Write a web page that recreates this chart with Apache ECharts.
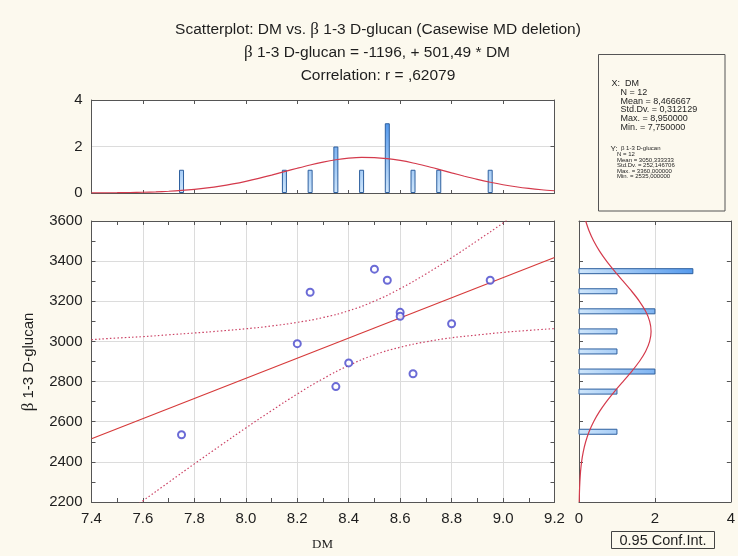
<!DOCTYPE html>
<html>
<head>
<meta charset="utf-8">
<script src="https://cdn.jsdelivr.net/npm/echarts@6/dist/echarts.min.js"></script>
<style>
html,body{margin:0;padding:0;background:#FCF9EE;}
#chart{width:738px;height:556px;}
</style>
</head>
<body>
<div id="chart"></div>
<script>
// ---- data ----
const dmValues      = [7.75, 8.20, 8.25, 8.35, 8.40, 8.50, 8.55, 8.60, 8.60, 8.65, 8.80, 8.95];
const glucanValues  = [2535, 2989, 3245, 2775, 2893, 3360, 3305, 3145, 3125, 2839, 3088, 3305];

const regLineX = [7.4, 9.2];
const regLineY = [2515, 3418];

const ciX     = [7.4, 7.5, 7.6, 7.7, 7.8, 7.9, 8.0, 8.1, 8.2, 8.3, 8.4, 8.5, 8.6, 8.7, 8.8, 8.9, 9.0, 9.1, 9.2];
const ciUpper = [3009, 3017, 3024, 3033, 3042, 3052, 3063, 3077, 3095, 3119, 3153, 3201, 3263, 3336, 3417, 3502, 3590, 3680, 3771];
const ciLower = [2021, 2114, 2206, 2298, 2390, 2480, 2569, 2655, 2738, 2814, 2880, 2933, 2971, 2998, 3018, 3032, 3045, 3055, 3064];

const histXBins   = [7.75, 8.15, 8.25, 8.35, 8.45, 8.55, 8.65, 8.75, 8.95];
const histXCounts = [1, 1, 1, 2, 1, 3, 1, 1, 1];

const normXGrid  = [7.40, 7.45, 7.50, 7.55, 7.60, 7.65, 7.70, 7.75, 7.80, 7.85, 7.90, 7.95, 8.00, 8.05, 8.10, 8.15, 8.20, 8.25, 8.30, 8.35,
                    8.40, 8.45, 8.50, 8.55, 8.60, 8.65, 8.70, 8.75, 8.80, 8.85, 8.90, 8.95, 9.00, 9.05, 9.10, 9.15, 9.20];
const normXCurve = [0.005, 0.008, 0.013, 0.021, 0.033, 0.050, 0.075, 0.110, 0.157, 0.218, 0.295, 0.390, 0.502, 0.629, 0.769, 0.917, 1.065, 1.206, 1.330, 1.431,
                    1.499, 1.532, 1.525, 1.480, 1.400, 1.291, 1.160, 1.016, 0.867, 0.722, 0.585, 0.463, 0.356, 0.268, 0.196, 0.140, 0.097];

const histYBins   = [2550, 2750, 2850, 2950, 3050, 3150, 3250, 3350];
const histYCounts = [1, 1, 2, 1, 1, 2, 1, 3];

const normYGrid  = [2200, 2250, 2300, 2350, 2400, 2450, 2500, 2550, 2600, 2650, 2700, 2750, 2800, 2850, 2900, 2950, 3000, 3050,
                    3100, 3150, 3200, 3250, 3300, 3350, 3400, 3450, 3500, 3550, 3600];
const normYCurve = [0.006, 0.012, 0.023, 0.040, 0.068, 0.112, 0.176, 0.265, 0.385, 0.538, 0.723, 0.934, 1.160, 1.385, 1.590, 1.754, 1.861, 1.899,
                    1.862, 1.756, 1.592, 1.388, 1.163, 0.937, 0.726, 0.541, 0.387, 0.267, 0.176];

const xTickLabels = ['7.4','7.6','7.8','8.0','8.2','8.4','8.6','8.8','9.0','9.2'];
const statsX = ['X:  DM', 'N = 12', 'Mean = 8,466667', 'Std.Dv. = 0,312129', 'Max. = 8,950000', 'Min. = 7,750000'];
const statsY = ['N = 12', 'Mean = 3050,333333', 'Std.Dv. = 252,146706', 'Max. = 3360,000000', 'Min. = 2535,000000'];

// ---- chart ----
const chart = echarts.init(document.getElementById('chart'));
const SANS = 'Liberation Sans, Arial, sans-serif';
const SERIF = 'Liberation Serif, Times New Roman, serif';
const AX = '#555555';
const GRIDC = '#dcdcdc';
const TXT = '#1e1e1e';

function tickAxis(extra) {
  return Object.assign({
    type: 'value',
    axisLine: {show: true, onZero: false, lineStyle: {color: AX, width: 1}},
    axisTick: {show: true, inside: true, length: 4, lineStyle: {color: AX}},
    axisLabel: {show: false},
    splitLine: {show: false}
  }, extra);
}

const barGradTop = new echarts.graphic.LinearGradient(0, 100, 0, 193, [
  {offset: 0, color: '#2a7fe8'},
  {offset: 1, color: '#cfe6fb'}
], true);
const barGradRight = new echarts.graphic.LinearGradient(579, 0, 733, 0, [
  {offset: 0, color: '#cfe6fb'},
  {offset: 1, color: '#2a7fe8'}
], true);

const labelStyle = {show: true, color: TXT, fontFamily: SANS, fontSize: 15, margin: 9, formatter: v => String(v)};

const option = {
  backgroundColor: '#FCF9EE',
  animation: false,
  grid: [
    {left: 91.5, top: 221, width: 463, height: 281, show: true, backgroundColor: '#ffffff', borderWidth: 0},
    {left: 91.5, top: 100, width: 463, height: 93, show: true, backgroundColor: '#ffffff', borderWidth: 0},
    {left: 579, top: 221, width: 154, height: 281, show: true, backgroundColor: '#ffffff', borderWidth: 0}
  ],
  xAxis: [
    tickAxis({gridIndex: 0, position: 'bottom', min: 7.4, max: 9.2, interval: 0.2,
      axisLabel: Object.assign({}, labelStyle, {formatter: v => { const s = v.toFixed(1); return xTickLabels.indexOf(s) >= 0 ? s : ''; }}),
      minorTick: {show: true, splitNumber: 2, length: 4, lineStyle: {color: AX}},
      splitLine: {show: true, lineStyle: {color: GRIDC, width: 1}}}),
    tickAxis({gridIndex: 0, position: 'top', min: 7.4, max: 9.2, interval: 0.2,
      minorTick: {show: true, splitNumber: 2, length: 4, lineStyle: {color: AX}}}),
    tickAxis({gridIndex: 1, position: 'bottom', min: 7.4, max: 9.2, interval: 0.2, axisTick: {show: true, inside: true, length: 3, lineStyle: {color: AX}}}),
    tickAxis({gridIndex: 1, position: 'top', min: 7.4, max: 9.2, interval: 0.2}),
    tickAxis({gridIndex: 2, position: 'bottom', min: 0, max: 4, interval: 2,
      axisLabel: Object.assign({}, labelStyle),
      splitLine: {show: true, lineStyle: {color: GRIDC, width: 1}}}),
    tickAxis({gridIndex: 2, position: 'top', min: 0, max: 4, interval: 2})
  ],
  yAxis: [
    tickAxis({gridIndex: 0, position: 'left', min: 2200, max: 3600, interval: 200,
      axisLabel: Object.assign({}, labelStyle),
      minorTick: {show: true, splitNumber: 2, length: 4, lineStyle: {color: AX}},
      splitLine: {show: true, lineStyle: {color: GRIDC, width: 1}}}),
    tickAxis({gridIndex: 0, position: 'right', min: 2200, max: 3600, interval: 200,
      minorTick: {show: true, splitNumber: 2, length: 4, lineStyle: {color: AX}}}),
    tickAxis({gridIndex: 1, position: 'left', min: 0, max: 4, interval: 2,
      axisTick: {show: false},
      axisLabel: Object.assign({}, labelStyle),
      splitLine: {show: true, lineStyle: {color: GRIDC, width: 1}}}),
    tickAxis({gridIndex: 1, position: 'right', min: 0, max: 4, interval: 2}),
    tickAxis({gridIndex: 2, position: 'left', min: 2200, max: 3600, interval: 200}),
    tickAxis({gridIndex: 2, position: 'right', min: 2200, max: 3600, interval: 200})
  ],
  series: [
    {
      type: 'line', xAxisIndex: 0, yAxisIndex: 0, name: 'ciUpper',
      data: ciX.map((x, i) => [x, ciUpper[i]]), smooth: true, symbol: 'none',
      lineStyle: {color: '#cc4466', width: 1.2, type: [1.5, 2.2]}, z: 3
    },
    {
      type: 'line', xAxisIndex: 0, yAxisIndex: 0, name: 'ciLower',
      data: ciX.map((x, i) => [x, ciLower[i]]), smooth: true, symbol: 'none',
      lineStyle: {color: '#cc4466', width: 1.2, type: [1.5, 2.2]}, z: 3
    },
    {
      type: 'line', xAxisIndex: 0, yAxisIndex: 0, name: 'fit',
      data: regLineX.map((x, i) => [x, regLineY[i]]), symbol: 'none',
      lineStyle: {color: '#d63a3a', width: 1.2}, z: 4
    },
    {
      type: 'scatter', xAxisIndex: 0, yAxisIndex: 0, name: 'cases',
      data: dmValues.map((x, i) => [x, glucanValues[i]]),
      symbol: 'emptyCircle', symbolSize: 7,
      itemStyle: {color: '#4646cc', borderColor: '#4646cc', borderWidth: 0.9}, z: 5
    },
    {
      type: 'bar', xAxisIndex: 2, yAxisIndex: 2, name: 'histX',
      data: histXBins.map((x, i) => [x, histXCounts[i]]), barWidth: 5,
      itemStyle: {color: barGradTop, borderColor: '#2d5f9e', borderWidth: 1}, z: 2
    },
    {
      type: 'line', xAxisIndex: 2, yAxisIndex: 2, name: 'normX',
      data: normXGrid.map((x, i) => [x, normXCurve[i]]), smooth: 0.3, symbol: 'none',
      lineStyle: {color: '#d43a4c', width: 1.2}, z: 4
    },
    {
      type: 'custom', xAxisIndex: 4, yAxisIndex: 4, name: 'histY',
      data: histYBins.map((b, i) => [histYCounts[i], b]),
      encode: {x: 0, y: 1},
      renderItem: function (params, api) {
        const c = api.value(0), b = api.value(1);
        const p0 = api.coord([0, b]);
        const p1 = api.coord([c, b]);
        return {
          type: 'rect',
          shape: {x: p0[0], y: p0[1] - 2.5, width: p1[0] - p0[0], height: 5},
          style: {fill: barGradRight, stroke: '#2d5f9e', lineWidth: 1}
        };
      }, z: 2
    },
    {
      type: 'line', xAxisIndex: 4, yAxisIndex: 4, name: 'normY',
      data: normYGrid.map((y, i) => [normYCurve[i], y]), smooth: 0.3, symbol: 'none',
      lineStyle: {color: '#d43a4c', width: 1.2}, z: 4
    }
  ],
  graphic: [
    {type: 'text', x: 378, y: 30, style: {text: 'Scatterplot: DM vs. {b|β} 1-3 D-glucan (Casewise MD deletion)',
      font: '15.5px ' + SANS, fill: TXT, textAlign: 'center', align: 'center', textVerticalAlign: 'middle', verticalAlign: 'middle',
      rich: {b: {fontFamily: SERIF, fontSize: 17, fill: TXT, color: TXT}}}},
    {type: 'text', x: 377, y: 53, style: {text: '{b|β} 1-3 D-glucan = -1196, + 501,49 * DM',
      font: '15.5px ' + SANS, fill: TXT, textAlign: 'center', align: 'center', textVerticalAlign: 'middle', verticalAlign: 'middle',
      rich: {b: {fontFamily: SERIF, fontSize: 17, fill: TXT, color: TXT}}}},
    {type: 'text', x: 378, y: 76, style: {text: 'Correlation: r = ,62079',
      font: '15.5px ' + SANS, fill: TXT, textAlign: 'center', align: 'center', textVerticalAlign: 'middle', verticalAlign: 'middle'}},
    {type: 'text', x: 29, y: 362, rotation: Math.PI / 2, style: {text: '{b|β} 1-3 D-glucan',
      font: '15px ' + SANS, fill: TXT, textAlign: 'center', align: 'center', textVerticalAlign: 'middle', verticalAlign: 'middle',
      rich: {b: {fontFamily: SERIF, fontSize: 17, fill: TXT, color: TXT}}}},
    {type: 'text', x: 322.5, y: 545, style: {text: 'DM', font: '13px ' + SERIF, fill: TXT,
      textAlign: 'center', align: 'center', textVerticalAlign: 'middle', verticalAlign: 'middle'}},
    {type: 'rect', shape: {x: 598.5, y: 54.5, width: 126.5, height: 156.5}, style: {fill: '#FCF9EE', stroke: '#555', lineWidth: 1}},
    {type: 'rect', shape: {x: 611.5, y: 531.5, width: 103, height: 17}, style: {fill: '#FCF9EE', stroke: '#444', lineWidth: 1}},
    {type: 'text', x: 663, y: 540.5, style: {text: '0.95 Conf.Int.', font: '14.5px ' + SANS, fill: TXT,
      textAlign: 'center', align: 'center', textVerticalAlign: 'middle', verticalAlign: 'middle'}}
  ]
};

// stats text block
statsX.forEach((t, i) => {
  option.graphic.push({type: 'text', x: i === 0 ? 611.5 : 620.5, y: 83.5 + i * 8.8,
    style: {text: t, font: '9px ' + SANS, fill: TXT, textVerticalAlign: 'middle', verticalAlign: 'middle'}});
});
option.graphic.push({type: 'text', x: 610.5, y: 148.5,
  style: {text: 'Y:', font: '8px ' + SANS, fill: TXT, textVerticalAlign: 'middle', verticalAlign: 'middle'}});
option.graphic.push({type: 'text', x: 621, y: 148.5,
  style: {text: 'β 1-3 D-glucan', font: '6px ' + SANS, fill: TXT, textVerticalAlign: 'middle', verticalAlign: 'middle'}});
statsY.forEach((t, i) => {
  option.graphic.push({type: 'text', x: 617, y: 154.2 + i * 5.65,
    style: {text: t, font: '6px ' + SANS, fill: TXT, textVerticalAlign: 'middle', verticalAlign: 'middle'}});
});

chart.setOption(option);
</script>
</body>
</html>
